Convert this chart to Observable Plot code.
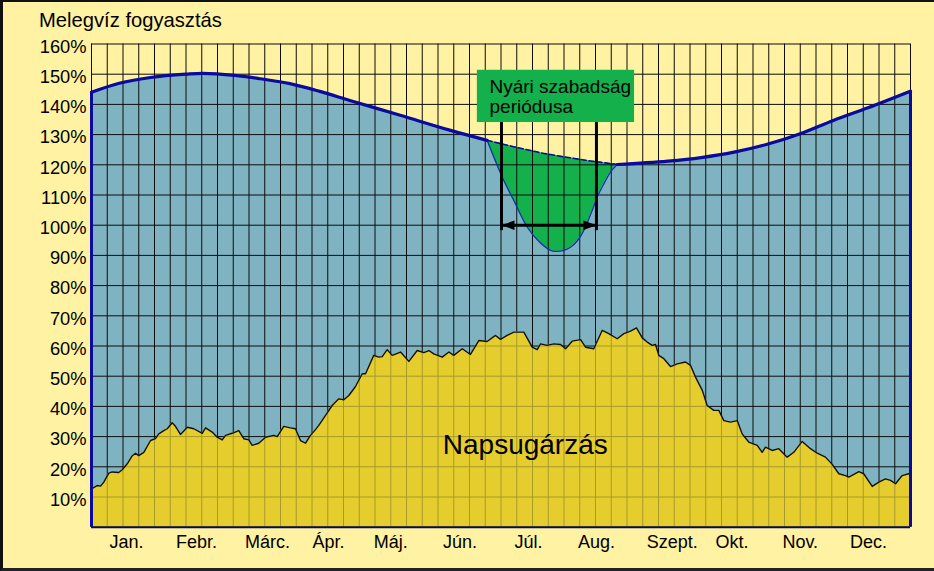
<!DOCTYPE html>
<html>
<head>
<meta charset="utf-8">
<script src="https://cdn.jsdelivr.net/npm/d3@7"></script>
<script src="https://cdn.jsdelivr.net/npm/@observablehq/plot@0.6"></script>
<style>
  html, body { margin: 0; padding: 0; background: #fff; }
  #frame {
    position: relative; width: 934px; height: 571px; box-sizing: border-box;
    background: #FFF2A2; border-top: 2px solid #111; border-left: 3px solid #111; border-bottom: 3px solid #222;
    font-family: "Liberation Sans", Arial, Helvetica, sans-serif; overflow: hidden;
  }
  #title { position: absolute; left: 36px; top: 7.5px; font-size: 20.2px; line-height: 20.2px; color: #000; white-space: nowrap; }
  #chart { position: absolute; left: 0; top: 0; }
</style>
</head>
<body>
<div id="frame">
  <div id="chart"></div>
  <div id="title">Melegvíz fogyasztás</div>
</div>
<script>
// ---- data (x in weeks of the year, y in %) ----
const monthLabels = ["Jan.", "Febr.", "Márc.", "Ápr.", "Máj.", "Jún.", "Júl.", "Aug.", "Szept.", "Okt.", "Nov.", "Dec."];
const monthPos = [2.22, 6.67, 11.17, 15.05, 19.0, 23.4, 27.75, 32.06, 36.87, 40.67, 45.0, 49.33];
const yTicks = [10, 20, 30, 40, 50, 60, 70, 80, 90, 100, 110, 120, 130, 140, 150, 160];
const gridWeeks = d3.range(0, 53);
const gridPercents = d3.range(0, 161, 10);

// hot water consumption (upper curve), before and after the summer dip
const waterEarly = [[0,144],[1.7,146.9],[3.75,148.9],[6.0,150],[7.05,150.3],[9.1,149.6],[10.7,148.5],[12.6,146.9],[14.5,144.3],[16.4,141.3],[19.6,136.4],[22.8,131.4],[25.12,128.1]];
const waterLate = [[33.38,120.1],[36.6,121.2],[38.7,122.4],[40.8,124.2],[42.9,126.8],[45.0,130.3],[47.1,134.7],[49.3,138.9],[52,144.4]];
// summer holiday dip: week, reduced consumption, expected (dashed) consumption
const dipWeeks = [25.12, 26.08, 26.81, 27.66, 28.51, 29.14, 29.57, 30.41, 31.26, 31.79, 32.11, 32.53, 32.95, 33.38];
const dipLow = [128.1, 115.9, 108.2, 99.4, 94.1, 91.7, 91.3, 92.7, 98.3, 104.9, 109.3, 113.7, 117.6, 120.1];
const dipHigh = [128.1, 126.9, 126.0, 125.0, 124.0, 123.4, 123.0, 122.3, 121.6, 121.2, 121.0, 120.7, 120.4, 120.1];

// solar radiation
const solar = [[0,12.7],[0.36,13.8],[0.57,13.6],[0.78,14.9],[1.1,17.9],[1.31,18.3],[1.73,18.1],[1.95,19],[2.27,21],[2.58,23.6],[2.79,24.5],[3.0,23.7],[3.32,24.8],[3.75,28.7],[4.06,29.3],[4.27,30.9],[4.59,32],[4.81,32.6],[5.12,34.6],[5.33,33.4],[5.65,30.7],[6.08,33.1],[6.5,32.6],[7.03,31.1],[7.24,32.9],[7.66,31.5],[7.98,29.8],[8.3,28.9],[8.51,30.4],[8.93,31.1],[9.35,32],[9.67,29.3],[9.99,28.9],[10.2,27.1],[10.62,27.8],[11.05,29.8],[11.57,30.4],[11.79,30],[12.21,33.4],[12.63,32.9],[12.95,32.6],[13.27,28.7],[13.59,27.8],[13.9,30.4],[14.22,32.3],[14.43,33.7],[14.86,37],[15.28,40.3],[15.7,42.5],[16.02,42.2],[16.34,43.6],[16.76,46.6],[17.19,50.8],[17.4,50.8],[17.92,56.9],[18.24,56.3],[18.46,56.5],[18.77,58.8],[19.09,56.9],[19.62,58],[20.15,54.9],[20.68,58.5],[21.1,57.8],[21.42,58.5],[21.73,57.4],[22.27,56.3],[22.69,58],[23.0,56.9],[23.54,59.1],[24.06,57.2],[24.59,61.8],[25.12,61.5],[25.65,63.5],[25.97,62.2],[26.39,63.5],[26.81,64.6],[27.45,64.6],[27.98,59.6],[28.3,58.8],[28.51,60.7],[28.93,60.2],[29.35,60.7],[29.78,60.5],[30.1,59.1],[30.52,61.6],[31.05,62.1],[31.37,59.6],[31.89,59.1],[32.43,65.2],[32.84,64.1],[33.38,62.4],[33.8,64.1],[34.22,64.9],[34.6,66],[34.97,62.7],[35.28,61.3],[35.6,60.2],[35.81,60.5],[36.02,56.9],[36.34,55.8],[36.76,53.2],[37.19,54.1],[37.71,54.7],[38.03,53.6],[38.35,49.7],[38.78,45.3],[39.09,40.3],[39.51,38.7],[39.83,38.7],[40.15,35.3],[40.57,34.8],[41.0,35.3],[41.31,30.9],[41.73,28.2],[42.27,27.1],[42.58,24.8],[42.79,26.5],[43.22,25.4],[43.64,26],[44.17,23.2],[44.59,24.8],[45.12,28.4],[45.65,26],[46.08,24.5],[46.6,23.2],[47.03,20.8],[47.45,17.7],[47.87,17.1],[48.08,16.6],[48.72,18.4],[49.03,17.7],[49.57,13.5],[49.99,14.9],[50.41,16],[50.73,15.5],[51.05,14.4],[51.47,17.1],[51.89,17.7],[52,18.2]];

// annotations
const holidayWeeks = [26.03, 32.06];
const holidayArrowLevel = 100;
const holidayLineRange = [98.2, 134];
const holidayBox = {x1: 24.5, x2: 34.48, y1: 134, y2: 151.3, text: "Nyári szabadság\nperiódusa", textX: 25.27};
const solarLabel = {text: "Napsugárzás", x: 27.54, y: 24.3};

// ---- styles ----
const BLUE = "#80B3C2", GREEN = "#13B04B", SOLAR = "#E4CD2C", OLIVE = "#A89A2B", NAVY = "#0A0A9E", GRID = "#0d0d0d";

const dip = dipWeeks.map((w, i) => ({w, low: dipLow[i], high: dipHigh[i]}));
const arrowHead = {
  draw(ctx, size) {
    const r = Math.sqrt(size / Math.PI);
    ctx.moveTo(r, 0); ctx.lineTo(-r, -0.72 * r); ctx.lineTo(-r, 0.72 * r); ctx.closePath();
  }
};

const W = 931, H = 566;
const chart = Plot.plot({
  width: W, height: H,
  marginLeft: 88, marginRight: 24, marginTop: 41.5, marginBottom: 41.3,
  style: {background: "transparent", fontFamily: "'Liberation Sans', Arial, Helvetica, sans-serif", overflow: "visible"},
  x: {domain: [0, 52], axis: null},
  y: {domain: [0, 160], axis: null},
  marks: [
    Plot.areaY(waterEarly, {x: d => d[0], y: d => d[1], fill: BLUE, stroke: BLUE, strokeWidth: 0.8, curve: "monotone-x"}),
    Plot.areaY(dip, {x: "w", y: "low", fill: BLUE, stroke: BLUE, strokeWidth: 0.8, curve: "monotone-x"}),
    Plot.areaY(waterLate, {x: d => d[0], y: d => d[1], fill: BLUE, stroke: BLUE, strokeWidth: 0.8, curve: "monotone-x"}),
    Plot.areaY(dip, {x: "w", y1: "low", y2: "high", fill: GREEN, curve: "monotone-x"}),
    Plot.ruleX(gridWeeks, {x: d => d, stroke: GRID, strokeWidth: 1}),
    Plot.ruleY(gridPercents, {y: d => d, stroke: GRID, strokeWidth: 1}),
    Plot.areaY(solar, {x: d => d[0], y: d => d[1], fill: SOLAR}),
    Plot.ruleX(gridWeeks, {x: d => d, stroke: OLIVE, strokeWidth: 1}),
    Plot.ruleY(gridPercents, {y: d => d, stroke: OLIVE, strokeWidth: 1}),
    Plot.line(solar, {x: d => d[0], y: d => d[1], stroke: "#111", strokeWidth: 1.4}),
    // outline of the consumption area
    Plot.ruleX([waterEarly[0]], {x: d => d[0], y1: 0, y2: d => d[1], stroke: NAVY, strokeWidth: 3}),
    Plot.ruleX([waterLate[waterLate.length - 1]], {x: d => d[0], y1: 0, y2: d => d[1], stroke: NAVY, strokeWidth: 3}),
    Plot.ruleY([0], {stroke: "#0a0a50", strokeWidth: 2}),
    Plot.line(dip, {x: "w", y: "low", stroke: "#1030B0", strokeWidth: 1.3, curve: "monotone-x"}),
    Plot.line(dip, {x: "w", y: "high", stroke: NAVY, strokeWidth: 1.6, strokeDasharray: "5,3", curve: "monotone-x"}),
    Plot.line(waterEarly, {x: d => d[0], y: d => d[1], stroke: NAVY, strokeWidth: 3.2, curve: "monotone-x"}),
    Plot.line(waterLate, {x: d => d[0], y: d => d[1], stroke: NAVY, strokeWidth: 3.2, curve: "monotone-x"}),
    // summer holiday annotation
    Plot.rect([holidayBox], {x1: "x1", x2: "x2", y1: "y1", y2: "y2", fill: GREEN}),
    Plot.text([holidayBox], {x: "textX", y: d => (d.y1 + d.y2) / 2, text: "text", textAnchor: "start", lineAnchor: "middle", lineHeight: 1.085, fontSize: 19, fill: "#000"}),
    Plot.ruleX(holidayWeeks, {x: d => d, y1: holidayLineRange[0], y2: holidayLineRange[1], stroke: "#000", strokeWidth: 3}),
    Plot.ruleY([holidayArrowLevel], {y: d => d, x1: holidayWeeks[0], x2: holidayWeeks[1], stroke: "#000", strokeWidth: 3}),
    Plot.dot([holidayWeeks[0]], {x: d => d, y: holidayArrowLevel, symbol: arrowHead, r: 6.5, rotate: 180, dx: 6.5, fill: "#000", stroke: "none"}),
    Plot.dot([holidayWeeks[1]], {x: d => d, y: holidayArrowLevel, symbol: arrowHead, r: 6.5, rotate: 0, dx: -6.5, fill: "#000", stroke: "none"}),
    Plot.text([solarLabel], {x: "x", y: "y", text: "text", fontSize: 28, textAnchor: "middle", lineAnchor: "bottom", fill: "#000"}),
    // axes labels
    Plot.text(yTicks, {y: d => d, text: d => d + "%", frameAnchor: "left", dx: -5, dy: 3, textAnchor: "end", lineAnchor: "middle", fontSize: 18.3, fill: "#000"}),
    Plot.text(monthLabels, {x: (d, i) => monthPos[i], text: d => d, frameAnchor: "bottom", lineAnchor: "top", dy: 8.3, fontSize: 18, fill: "#000"})
  ]
});

// draw the grid in olive only where it lies over the solar-radiation area
(function clipOliveGrid(svg) {
  const ns = "http://www.w3.org/2000/svg";
  const areaGroup = svg.querySelector(`g[fill="${SOLAR}"]`);
  const olive = Array.from(svg.querySelectorAll(`g[stroke="${OLIVE}"]`));
  if (!areaGroup || !olive.length) return;
  const path = areaGroup.querySelector("path");
  const defs = document.createElementNS(ns, "defs");
  const cp = document.createElementNS(ns, "clipPath");
  cp.setAttribute("id", "solarClip");
  const p = path.cloneNode(false);
  const t = [areaGroup.getAttribute("transform"), path.getAttribute("transform")].filter(Boolean).join(" ");
  if (t) p.setAttribute("transform", t);
  cp.appendChild(p);
  defs.appendChild(cp);
  svg.insertBefore(defs, svg.firstChild);
  const wrap = document.createElementNS(ns, "g");
  wrap.setAttribute("clip-path", "url(#solarClip)");
  olive[0].parentNode.insertBefore(wrap, olive[0]);
  olive.forEach(g => wrap.appendChild(g));
})(chart);

document.getElementById("chart").appendChild(chart);
</script>
</body>
</html>
